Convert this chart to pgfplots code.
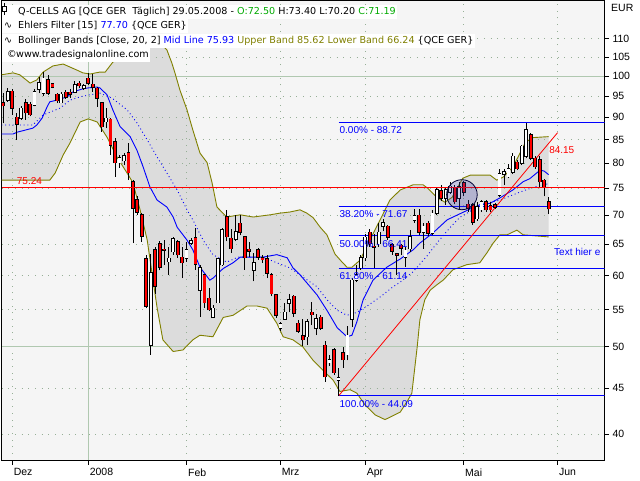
\documentclass[border=0pt]{standalone}
\usepackage{pgfplots}
\pgfplotsset{compat=1.18}
\usepackage{pgfplotstable}
\usepgfplotslibrary{fillbetween}
\usepackage{fontspec}
\setmainfont{Liberation Sans}
\newfontfamily\dejavu{DejaVu Sans}

\definecolor{bgc}{RGB}{245,245,245}
\definecolor{bandc}{RGB}{220,220,220}
\definecolor{olivec}{RGB}{128,128,0}
\definecolor{gridc}{RGB}{150,175,150}
\definecolor{gridg}{RGB}{176,200,176}
\definecolor{tgreen}{RGB}{0,170,0}
\definecolor{pblue}{RGB}{0,0,255}
\definecolor{lred}{RGB}{255,0,0}
\definecolor{ellc}{RGB}{60,60,170}

\pgfplotsset{
  layers/mylayers/.define layer set={axis background,pre main,axis grid,axis ticks,axis lines,axis tick labels,main,axis descriptions,axis foreground}{
    grid style={/pgfplots/on layer=axis grid},
    tick style={/pgfplots/on layer=axis ticks},
    axis line style={/pgfplots/on layer=axis lines},
    label style={/pgfplots/on layer=axis descriptions},
    legend style={/pgfplots/on layer=axis descriptions},
    title style={/pgfplots/on layer=axis descriptions},
    colorbar style={/pgfplots/on layer=axis descriptions},
    ticklabel style={/pgfplots/on layer=axis tick labels},
    axis background@ style={/pgfplots/on layer=axis background},
    3d box foreground style={/pgfplots/on layer=axis foreground},
  },
}

\pgfplotstableread{
i O H L C
0 93.3 95.7 88.6 92.7
1 94.0 96.9 93.6 96.0
2 96.2 96.6 90.5 92.1
3 90.0 91.0 84.9 88.4
4 89.7 92.5 89.4 92.1
5 93.3 94.2 89.4 91.0
6 93.0 93.6 90.2 90.6
7 92.8 96.6 92.5 96.0
8 96.7 99.8 95.7 98.3
9 95.7 101.1 95.0 99.4
10 99.0 100.3 95.2 95.7
11 98.0 98.3 96.9 97.2
12 95.4 95.8 93.3 93.9
13 93.4 96.0 93.2 95.4
14 95.9 96.5 94.3 94.7
15 95.9 96.6 94.6 95.4
16 96.0 98.8 95.7 97.7
17 98.1 98.8 96.9 97.5
18 96.9 98.0 96.5 97.5
19 99.4 100.7 97.7 98.1
20 97.9 100.5 96.0 97.1
21 96.9 97.3 92.4 94.5
22 93.4 93.6 86.7 87.8
23 89.0 92.1 87.5 89.7
24 89.5 89.8 81.7 83.8
25 84.5 85.3 77.3 80.1
26 80.1 81.7 79.1 81.1
27 80.5 82.1 79.6 81.5
28 82.1 84.2 76.6 78.1
29 76.3 76.6 65.2 71.3
30 72.8 73.5 70.1 70.6
31 70.1 70.5 65.4 66.4
32 62.6 63.3 55.2 55.5
33 50.2 63.4 49.0 60.4
34 64.1 64.6 57.3 58.4
35 65.1 65.6 60.8 61.3
36 64.2 65.8 61.7 64.0
37 62.2 64.6 60.1 62.7
38 63.8 66.3 63.3 65.9
39 65.4 65.7 62.8 63.3
40 62.9 64.6 59.6 62.0
41 62.7 65.4 62.2 64.1
42 65.2 66.1 64.9 65.6
43 66.1 67.8 60.9 61.8
44 57.8 61.7 54.0 61.2
45 60.1 60.3 55.2 56.0
46 56.6 58.1 54.8 55.0
47 53.9 55.6 53.8 55.2
48 56.0 62.7 55.9 62.6
49 61.7 67.8 61.5 67.5
50 69.7 71.0 65.5 66.3
51 66.0 67.6 63.6 64.3
52 65.9 70.0 65.5 67.1
53 68.6 70.0 66.5 67.0
54 66.3 66.4 60.9 62.8
55 64.2 65.4 63.0 63.9
56 60.8 63.6 59.1 62.0
57 64.1 64.4 62.5 62.9
58 62.8 63.3 62.0 62.5
59 62.6 63.3 59.6 60.4
60 60.1 60.4 56.9 57.3
61 57.1 57.3 53.8 54.2
62 52.4 53.3 52.0 53.0
63 53.7 55.9 53.6 54.6
64 55.9 57.3 54.6 56.4
65 56.9 57.1 54.0 54.5
66 53.1 53.6 51.8 52.0
67 51.4 53.7 50.1 50.9
68 51.3 53.7 50.2 53.3
69 54.6 56.1 52.9 54.3
70 52.4 54.4 51.5 53.7
71 53.9 54.2 52.2 52.4
72 50.2 50.7 45.7 46.3
73 48.0 49.0 47.6 48.4
74 49.6 49.9 46.5 46.8
75 45.9 47.3 44.09 46.2
76 49.2 50.0 47.4 48.4
77 49.0 52.7 48.3 51.5
78 53.7 59.6 52.6 59.3
79 59.3 61.6 59.0 60.1
80 61.2 63.3 60.9 62.8
81 62.8 66.8 62.3 66.2
82 67.0 67.6 64.6 65.1
83 64.7 66.8 61.2 64.5
84 65.1 68.7 64.6 67.0
85 68.1 69.4 67.2 68.7
86 68.1 68.3 65.8 66.2
87 64.9 65.2 63.3 63.9
88 63.4 63.5 60.1 63.2
89 64.8 65.0 63.3 64.4
90 62.9 64.6 61.4 64.0
91 64.3 67.5 63.8 66.3
92 69.1 71.1 68.7 69.9
93 70.0 71.1 66.6 67.0
94 67.0 68.6 64.3 68.1
95 68.6 69.0 66.4 66.9
96 66.9 71.0 66.5 70.4
97 70.4 75.3 70.0 74.7
98 74.6 75.6 72.6 73.1
99 73.1 75.3 71.9 74.7
100 74.3 76.3 73.9 75.4
101 75.2 75.7 72.0 72.5
102 73.1 76.3 71.0 75.3
103 76.1 76.5 73.5 74.3
104 72.0 72.8 70.6 71.2
105 71.9 72.3 68.3 68.8
106 69.4 72.5 69.0 71.6
107 71.0 72.8 70.6 72.5
108 72.5 72.9 70.6 71.0
109 71.7 72.5 70.6 71.0
110 71.9 72.3 71.2 71.5
111 73.7 78.9 73.4 77.9
112 77.8 78.9 75.7 78.2
113 77.3 79.9 77.0 78.9
114 78.2 82.1 77.8 81.4
115 80.2 80.7 78.6 78.9
116 80.0 83.8 79.6 83.5
117 81.4 88.72 81.0 87.1
118 86.0 86.4 80.6 81.0
119 81.0 81.4 78.9 79.3
120 80.7 81.4 75.0 76.3
121 76.6 76.9 73.5 75.3
122 72.5 73.4 70.2 71.19
}\candles

\pgfplotstableread{
x y
-0.4 100.3
2.2 100.8
3.7 100.3
6.0 98.2
7.5 99.0
8.9 101.0
11.1 102.6
13.4 103.1
16.5 101.5
17.8 100.8
19.4 100.5
21.6 101.0
22.8 101.0
24.5 103.6
26.8 105.0
31.3 106.9
34.4 108.3
35.5 108.3
36.6 106.9
37.7 103.4
38.4 100.8
39.5 96.5
41.1 91.7
42.4 87.1
44.0 82.1
45.6 80.1
46.7 76.1
47.8 71.5
50.0 69.7
53.0 70.1
55.9 69.7
59.7 70.1
61.9 70.4
64.1 70.6
66.4 71.0
67.9 70.4
69.3 69.6
70.9 67.9
72.4 66.6
74.2 63.4
75.8 62.1
76.9 61.3
78.0 61.3
79.8 62.4
82.0 65.7
84.3 69.2
86.5 72.8
88.8 74.7
91.7 75.7
93.9 75.7
95.0 75.0
97.0 73.3
98.8 72.4
100.4 73.3
101.5 75.0
102.8 77.0
104.5 77.6
108.9 77.6
110.4 76.6
111.8 77.2
114.0 79.2
115.6 82.1
116.7 84.2
118.3 85.4
122 85.62
}\upperband

\pgfplotstableread{
x y
-0.4 76.6
10.4 76.6
11.6 78.0
13.4 81.7
14.9 84.2
17.2 88.9
19.0 89.6
21.0 88.9
23.2 85.5
25.4 81.3
27.7 78.0
29.0 76.1
30.6 71.0
32.2 65.7
33.5 59.3
34.4 55.3
35.7 50.9
38.0 49.4
40.2 49.6
42.4 50.9
44.0 51.5
46.9 51.3
49.2 53.9
51.4 54.2
54.5 55.5
56.8 55.5
59.0 55.2
61.2 53.1
62.6 51.3
64.8 50.9
67.0 50.0
69.3 48.3
71.5 47.1
73.8 45.9
75.3 44.6
77.6 44.8
79.1 44.4
80.9 43.1
83.2 42.0
85.4 41.5
88.8 42.3
90.5 43.6
91.4 44.4
92.6 50.0
93.2 53.6
94.3 56.4
95.5 57.8
97.0 58.6
98.4 59.3
100.6 60.9
103.7 61.7
106.6 62.0
108.2 63.6
109.6 65.2
111.1 66.6
112.7 66.6
114.9 67.4
116.3 66.6
122 66.24
}\lowerband

\pgfplotstableread{
x y
-0.4 88.2
6.6 88.2
8.9 90.5
12.7 92.1
14.9 94.0
17.2 94.8
19.4 95.3
21.6 95.7
24.3 94.5
27.7 91.7
29.9 88.7
32.2 84.9
34.4 81.3
36.6 78.0
38.9 74.7
41.1 71.0
42.4 69.2
44.7 65.7
46.9 63.3
50.0 62.1
52.5 62.9
58.1 62.9
61.2 62.0
64.1 61.2
67.0 59.8
70.2 58.3
72.4 56.4
74.7 54.9
76.9 54.2
79.1 54.6
81.4 55.5
84.3 56.8
87.2 58.3
88.8 59.0
91.7 60.6
94.8 63.1
97.0 65.2
99.9 67.8
102.2 69.7
104.6 70.8
106.6 71.9
111.1 72.8
115.6 74.3
118.5 75.2
122 75.93
}\midband

\pgfplotstableread{
x y
-0.4 86.2
2.2 86.2
3.1 86.6
6.6 87.5
7.5 88.2
8.7 89.8
9.8 92.4
10.4 93.6
12.0 94.0
14.3 94.8
15.6 96.0
17.6 96.7
19.0 97.0
21.0 97.2
21.6 97.0
23.2 95.3
24.5 91.7
26.1 87.9
28.4 85.6
29.9 82.7
31.3 79.2
32.8 75.3
34.4 72.8
36.6 71.5
38.0 69.7
38.9 67.9
41.1 65.7
42.4 64.1
44.0 61.3
46.2 59.3
46.9 59.6
49.2 61.1
51.4 62.0
53.0 62.9
58.1 62.9
61.2 63.3
63.5 62.8
64.8 61.2
66.4 60.1
67.9 58.9
70.2 57.1
72.4 54.9
74.7 52.5
76.9 51.3
78.0 51.5
79.1 53.3
80.5 56.4
82.7 59.3
85.8 61.3
88.8 62.6
91.7 64.1
93.2 65.2
96.1 66.9
99.3 69.2
102.2 70.3
105.1 71.4
106.6 71.9
108.9 72.2
111.1 73.2
114.0 74.7
116.3 76.3
117.8 76.9
120.1 78.6
121.0 78.4
122 77.70
}\ehlers

\begin{document}
\begin{tikzpicture}
\begin{axis}[
  at={(1.5pt,19.5pt)}, anchor=south west,
  scale only axis, width=603pt, height=460pt,
  set layers=mylayers,
  xmin=-0.4, xmax=134.5, ymode=log, ymin=37.38, ymax=121.31,
  axis background/.style={fill=bgc},
  axis line style={black, line width=0.8pt},
  xtick={2,41,62,81,103,124}, xticklabels={Dez,Feb,Mrz,Apr,Mai,Jun},
  extra x ticks={19}, extra x tick labels={2008},
  ytick={40,45,55,60,65,70,75,80,85,90,95,105,110},
  yticklabels={40,45,55,60,65,70,75,80,85,90,95,105,110},
  extra y ticks={50,100}, extra y tick labels={50,100},
  grid=major, grid style={draw=gridc, line width=0.7pt, dash pattern=on 0.8pt off 5.9pt},
  extra tick style={grid=major, grid style={solid, draw=gridg, line width=0.8pt}},
  tick align=outside, major tick length=4.5pt,
  xtick pos=bottom, ytick pos=right, yticklabel pos=right,
  tick style={black, line width=0.7pt},
  minor y tick num=0,
  ticklabel style={font=\fontsize{10.5}{12}\selectfont},
  xticklabel style={anchor=north west, xshift=-2pt},
  yticklabel style={anchor=west},
]
% Bollinger bands
\addplot[name path=upper, draw=olivec, line width=0.9pt, forget plot] table[x=x,y=y] {\upperband};
\addplot[name path=lower, draw=olivec, line width=0.9pt, forget plot] table[x=x,y=y] {\lowerband};
\addplot[fill=bandc, draw=none, forget plot] fill between[of=upper and lower];

% Fibonacci lines
\addplot[draw=pblue, line width=1pt, forget plot] coordinates {(75,88.72) (134.5,88.72)};
\addplot[draw=pblue, line width=1pt, forget plot] coordinates {(75,71.67) (134.5,71.67)};
\addplot[draw=pblue, line width=1pt, forget plot] coordinates {(75,66.41) (134.5,66.41)};
\addplot[draw=pblue, line width=1pt, forget plot] coordinates {(75,61.14) (134.5,61.14)};
\addplot[draw=pblue, line width=1pt, forget plot] coordinates {(75,44.09) (134.5,44.09)};

% middle band and Ehlers filter
\addplot[draw=pblue, line width=0.9pt, dash pattern=on 0.9pt off 2.8pt, forget plot] table[x=x,y=y] {\midband};
\addplot[draw=pblue, line width=0.9pt, forget plot] table[x=x,y=y] {\ehlers};
% trend line
\addplot[draw=lred, line width=0.8pt, forget plot] coordinates {(75,44.09) (124,86.5)};

% candles: wicks
\addplot[draw=none, mark=none, forget plot,
  error bars/.cd, y dir=plus, y explicit, error mark=none,
  error bar style={draw=black, line width=0.8pt}]
  table[x=i, y=L, y error plus expr={\thisrow{H}-\thisrow{L}}] {\candles};
% bodies: falling (red)
\addplot[draw=none, mark=none, forget plot,
  restrict expr to domain={\thisrow{C}-\thisrow{O}}{-1000:0},
  error bars/.cd, y dir=plus, y explicit, error mark=none,
  error bar style={draw=black, line width=3.8pt, shorten <=-0.6pt, shorten >=-0.6pt}]
  table[x=i, y=C, y error plus expr={\thisrow{O}-\thisrow{C}}] {\candles};
\addplot[draw=none, mark=none, forget plot,
  restrict expr to domain={\thisrow{C}-\thisrow{O}}{-1000:0},
  error bars/.cd, y dir=plus, y explicit, error mark=none,
  error bar style={draw=lred, line width=2.2pt}]
  table[x=i, y=C, y error plus expr={\thisrow{O}-\thisrow{C}}] {\candles};
% bodies: rising (white)
\addplot[draw=none, mark=none, forget plot,
  restrict expr to domain={\thisrow{C}-\thisrow{O}}{0:1000},
  error bars/.cd, y dir=plus, y explicit, error mark=none,
  error bar style={draw=black, line width=3.8pt, shorten <=-0.6pt, shorten >=-0.6pt}]
  table[x=i, y=O, y error plus expr={\thisrow{C}-\thisrow{O}}] {\candles};
\addplot[draw=none, mark=none, forget plot,
  restrict expr to domain={\thisrow{C}-\thisrow{O}}{0:1000},
  error bars/.cd, y dir=plus, y explicit, error mark=none,
  error bar style={draw=white, line width=2.2pt}]
  table[x=i, y=O, y error plus expr={\thisrow{C}-\thisrow{O}}] {\candles};

% horizontal 75.24 line
\addplot[draw=lred, line width=1pt, forget plot] coordinates {(-0.4,75.24) (134.5,75.24)};

% annotations
\draw[draw=black!80!blue, line width=0.8pt, fill=ellc, fill opacity=0.25] (axis cs:102.6,73.8) ellipse [x radius=15.3pt, y radius=15pt];

\begin{scope}[font=\fontsize{10}{12}\selectfont]
\node[anchor=south west, inner sep=0pt, text=lred] at (axis cs:3.0,75.24) [yshift=2pt] {75.24};
\node[anchor=west, inner sep=0pt, text=lred] at (axis cs:122.1,82.7) {84.15};
\node[anchor=west, inner sep=0pt, text=pblue] at (axis cs:123.2,63.7) {Text hier e};
\node[anchor=north west, inner sep=0pt, text=pblue] at (axis cs:75.2,88.72) [yshift=-4pt] {0.00\% - 88.72};
\node[anchor=north west, inner sep=0pt, text=pblue] at (axis cs:75.2,71.67) [yshift=-4pt] {38.20\% - 71.67};
\node[anchor=north west, inner sep=0pt, text=pblue] at (axis cs:75.2,66.41) [yshift=-4pt] {50.00\% - 66.41};
\node[anchor=north west, inner sep=0pt, text=pblue] at (axis cs:75.2,61.14) [yshift=-4pt] {61.80\% - 61.14};
\node[anchor=north west, inner sep=0pt, text=pblue] at (axis cs:75.2,44.09) [yshift=-4pt] {100.00\% - 44.09};
\end{scope}
\end{axis}

% header lines
\begin{scope}[font=\dejavu\fontsize{9.6}{11}\selectfont]
\node[anchor=base west, fill=white, inner xsep=1pt, inner ysep=2.5pt] at (2pt,465pt)
  {\hspace*{15pt}Q-CELLS AG [QCE GER\ \ Täglich] 29.05.2008 - \textcolor{tgreen}{O:72.50} H:73.40 L:70.20 \textcolor{tgreen}{C:71.19}};
\node[anchor=base west, fill=white, inner xsep=1pt, inner ysep=2.5pt] at (2pt,451pt)
  {\makebox[15pt][l]{\hspace*{1pt}∿}Ehlers Filter [15] \textcolor{pblue}{77.70} \{QCE GER\}};
\node[anchor=base west, fill=white, inner xsep=1pt, inner ysep=2.5pt] at (2pt,436.5pt)
  {\makebox[15pt][l]{\hspace*{1pt}∿}Bollinger Bands [Close, 20, 2] \textcolor{pblue}{Mid Line 75.93} \textcolor{olivec}{Upper Band 85.62 Lower Band 66.24} \{QCE GER\}};
\node[anchor=base west, fill=white, inner xsep=1pt, inner ysep=2.5pt] at (2pt,422pt)
  {\makebox[13pt][l]{\hspace*{4pt}©}www.tradesignalonline.com};
\end{scope}
\draw[black, line width=0.7pt] (4.6pt,477pt) -- (4.6pt,465pt);
\filldraw[fill=white, draw=black, line width=0.7pt] (2.8pt,473.3pt) rectangle (6.4pt,468.3pt);
\node[anchor=base west, inner sep=0pt, font=\fontsize{10.5}{12}\selectfont] at (611pt,468pt) {EUR};
\pgfresetboundingbox
\path (0,0) rectangle (640pt,480pt);
\end{tikzpicture}
\end{document}
